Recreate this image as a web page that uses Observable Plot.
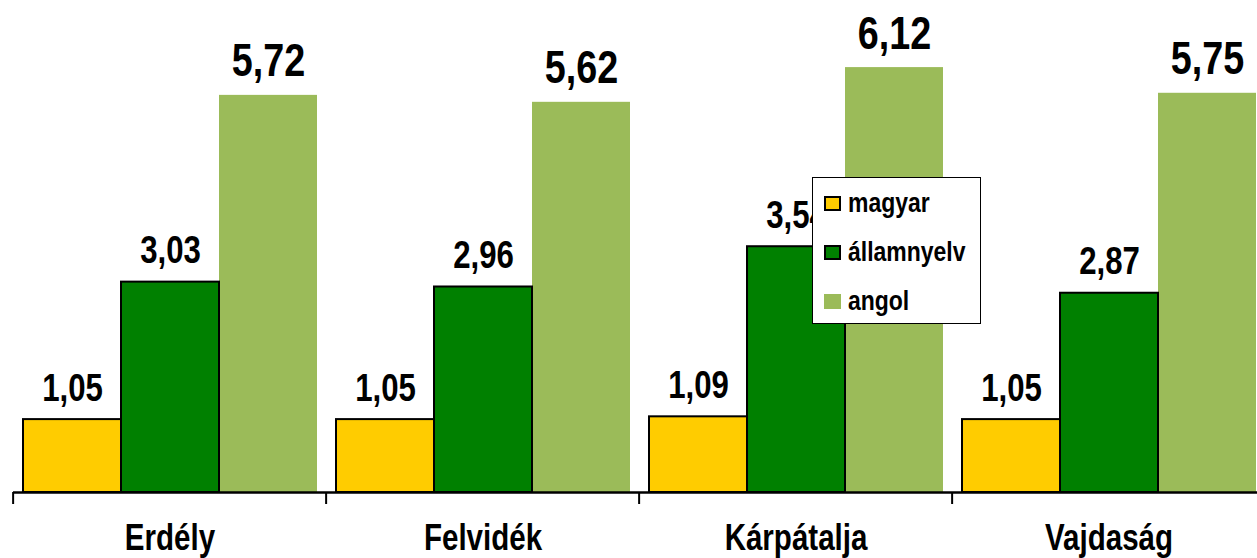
<!DOCTYPE html>
<html>
<head>
<meta charset="utf-8">
<script src="https://cdn.jsdelivr.net/npm/d3@7"></script>
<script src="https://cdn.jsdelivr.net/npm/@observablehq/plot@0.6"></script>
<style>
  html, body { margin: 0; padding: 0; background: #fff; }
  #wrap { position: relative; width: 1257px; height: 558px; overflow: hidden; }
  .legend { position: absolute; left: 812px; top: 177px; width: 167px; height: 145px;
    border: 1.5px solid #000; background: #fff;
    font-family: 'Liberation Sans', Arial, sans-serif;
    font-weight: bold; font-size: 28px; color: #000; }
  .row { position: absolute; left: 11px; height: 30px; display: flex; align-items: center; }
  .sw { width: 17px; height: 15px; box-sizing: border-box; margin-right: 7px; flex: none; }
  .lt { display: inline-block; transform: scaleX(0.82); transform-origin: left center; white-space: nowrap; }
</style>
</head>
<body>
<div id="wrap"></div>
<script>
const regions = ["Erdély", "Felvidék", "Kárpátalja", "Vajdaság"];
const series = ["magyar", "államnyelv", "angol"];
const colors = ["#FFCC00", "#008000", "#9BBB59"];
const magyar = [1.05, 1.05, 1.09, 1.05];
const allamnyelv = [3.03, 2.96, 3.54, 2.87];
const angol = [5.72, 5.62, 6.12, 5.75];
const seriesValues = [magyar, allamnyelv, angol];

const FONT = "'Liberation Sans', Arial, sans-serif";
const NARROW = 0.82;

const data = regions.flatMap((r, i) => series.map((s, j) => ({region: r, series: s, value: seriesValues[j][i]})));
const fmt = v => v.toFixed(2).replace(".", ",");
const stroked = data.filter(d => d.series !== "angol");
const plain = data.filter(d => d.series === "angol");

const W = 1257, ML = 11, MR = -9;
const fxStep = (W - ML - MR) / regions.length;

const plot = Plot.plot({
  width: W, height: 558,
  marginLeft: ML, marginRight: MR, marginTop: 6, marginBottom: 66,
  style: {fontFamily: FONT, fontWeight: "bold", color: "#000", background: "#fff"},
  fx: {domain: regions, paddingInner: 0, paddingOuter: 0, label: null},
  x: {domain: series, paddingInner: 0, paddingOuter: 0.091, axis: null},
  y: {domain: [0, 7], axis: null},
  color: {domain: series, range: colors},
  marks: [
    Plot.barY(plain, {fx: "region", x: "series", y: "value", fill: "series"}),
    Plot.barY(stroked, {fx: "region", x: "series", y: "value", fill: "series", stroke: "#000", strokeWidth: 2}),
    Plot.ruleY([0], {stroke: "#000", strokeWidth: 2.5}),
    Plot.axisFx({anchor: "bottom", tickSize: 12, strokeWidth: 2, tickFormat: () => "", dx: -fxStep / 2, label: null}),
    Plot.axisFx({anchor: "bottom", tickSize: 0, tickPadding: 32, fontSize: 36, fontWeight: "bold", label: null}),
    Plot.text(stroked, {fx: "region", x: "series", y: "value", text: d => fmt(d.value), dy: -19, lineAnchor: "bottom", fontSize: 38, fontWeight: "bold", fill: "#000"}),
    Plot.text(plain, {fx: "region", x: "series", y: "value", text: d => fmt(d.value), dy: -19, lineAnchor: "bottom", fontSize: 46, fontWeight: "bold", fill: "#000"})
  ]
});
const wrap = document.getElementById("wrap");
wrap.appendChild(plot);

// condense the text horizontally (narrow bold face of the original)
plot.querySelectorAll("text").forEach(t => {
  const L = t.getComputedTextLength();
  if (L > 0) {
    t.setAttribute("textLength", L * NARROW);
    t.setAttribute("lengthAdjust", "spacingAndGlyphs");
  }
});

const legend = document.createElement("div");
legend.className = "legend";
const rowTops = [10, 59, 108];
series.forEach((s, j) => {
  const row = document.createElement("div");
  row.className = "row";
  row.style.top = rowTops[j] + "px";
  const sw = document.createElement("span");
  sw.className = "sw";
  sw.style.background = colors[j];
  if (s !== "angol") sw.style.border = "2px solid #000";
  const t = document.createElement("span");
  t.className = "lt";
  t.textContent = s;
  row.appendChild(sw);
  row.appendChild(t);
  legend.appendChild(row);
});
wrap.appendChild(legend);
</script>
</body>
</html>
